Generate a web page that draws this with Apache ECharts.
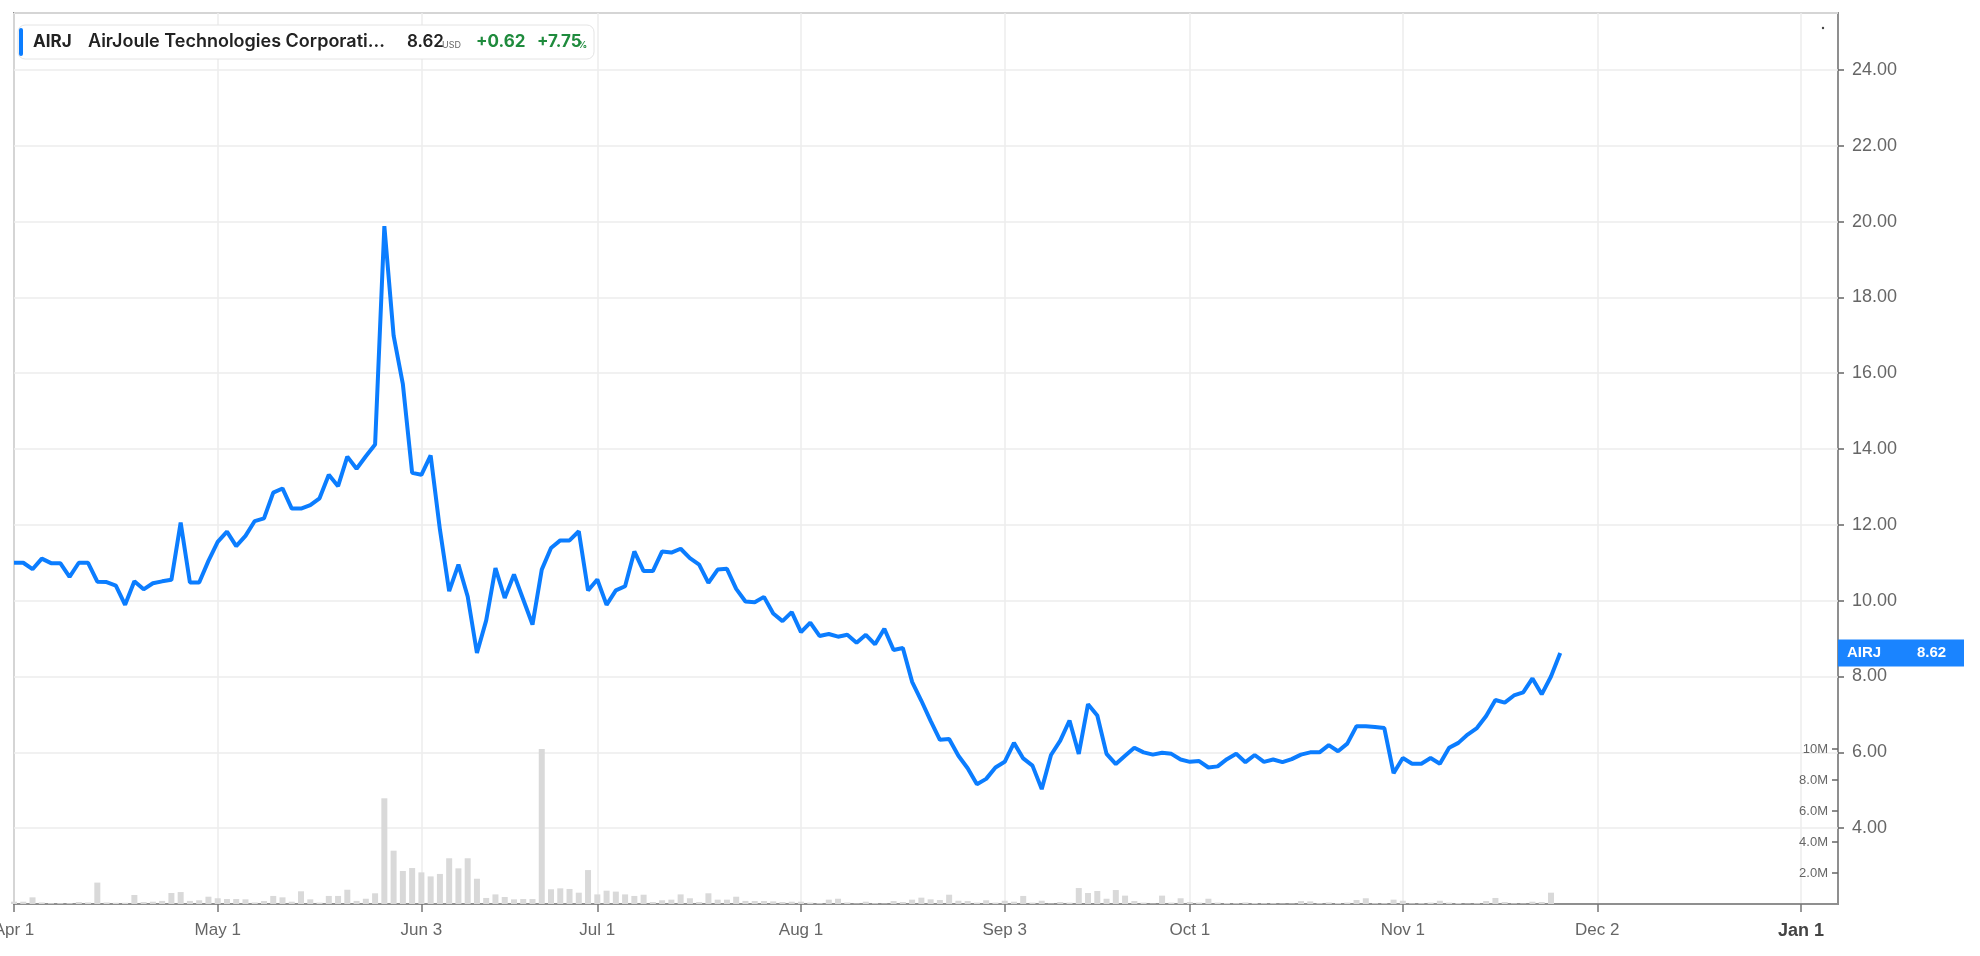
<!DOCTYPE html>
<html>
<head>
<meta charset="utf-8">
<script src="https://cdn.jsdelivr.net/npm/echarts@6.0.0/dist/echarts.min.js"></script>
<style>
html,body{margin:0;padding:0;background:#fff;}
#chart{width:1980px;height:956px;}
</style>
</head>
<body>
<div id="chart"></div>
<script>
// Trading-day categories (after the last quote the axis continues on weekdays)
const monthDays = [
  ['Apr', [1,2,3,4,5,8,9,10,11,12,15,16,17,18,19,22,23,24,25,26,29,30]],
  ['May', [1,2,3,6,7,8,9,10,13,14,15,16,17,20,21,22,23,24,28,29,30,31]],
  ['Jun', [3,4,5,6,7,10,11,12,13,14,17,18,20,21,24,25,26,27,28]],
  ['Jul', [1,2,3,5,8,9,10,11,12,15,16,17,18,19,22,23,24,25,26,29,30,31]],
  ['Aug', [1,2,5,6,7,8,9,12,13,14,15,16,19,20,21,22,23,26,27,28,29,30]],
  ['Sep', [3,4,5,6,9,10,11,12,13,16,17,18,19,20,23,24,25,26,27,30]],
  ['Oct', [1,2,3,4,7,8,9,10,11,14,15,16,17,18,21,22,23,24,25,28,29,30,31]],
  ['Nov', [1,4,5,6,7,8,11,12,13,14,15,18,19,20,21,22,25,26,27,28,29]],
  ['Dec', [2,3,4,5,6,9,10,11,12,13,16,17,18,19,20,23,24,25,26,27,30,31]],
  ['Jan', [1,2,3,6,7]]
];
const categories = [];
monthDays.forEach(([m, days]) => days.forEach(d => categories.push(m + ' ' + d)));

const tickDates = ['Apr 1','May 1','Jun 3','Jul 1','Aug 1','Sep 3','Oct 1','Nov 1','Dec 2','Jan 1'];

// Closing prices (USD), Apr 1 .. Nov 26
const prices = [
  11.00,11.00,10.83,11.11,10.99,10.99,10.63,11.00,11.00,10.50,
  10.49,10.40,9.89,10.51,10.30,10.46,10.51,10.55,12.06,10.48,
  10.48,11.05,11.55,11.82,11.44,11.71,12.10,12.17,12.85,12.96,
  12.43,12.43,12.52,12.70,13.32,13.02,13.80,13.48,13.81,14.12,
  19.88,16.99,15.71,13.37,13.32,13.83,11.88,10.25,10.95,10.11,
  8.62,9.48,10.86,10.07,10.69,10.03,9.37,10.82,11.39,11.59,
  11.59,11.83,10.27,10.56,9.89,10.27,10.38,11.30,10.78,10.78,
  11.30,11.27,11.37,11.12,10.95,10.47,10.82,10.84,10.31,9.98,
  9.96,10.10,9.66,9.46,9.70,9.17,9.42,9.07,9.12,9.05,
  9.10,8.89,9.10,8.85,9.26,8.70,8.75,7.86,7.36,6.83,
  6.33,6.35,5.91,5.58,5.16,5.30,5.60,5.75,6.25,5.84,
  5.65,5.03,5.93,6.31,6.84,5.96,7.27,6.97,5.96,5.69,
  5.91,6.12,6.00,5.94,5.99,5.96,5.81,5.75,5.77,5.60,
  5.63,5.82,5.96,5.74,5.93,5.75,5.81,5.74,5.82,5.94,
  6.00,6.00,6.19,6.03,6.23,6.69,6.69,6.67,6.64,5.45,
  5.85,5.70,5.70,5.85,5.70,6.12,6.25,6.47,6.64,6.96,
  7.38,7.31,7.50,7.58,7.95,7.53,8.00,8.62
];

// Volume (millions of shares)
const volumes = [
  0.15,0.15,0.43,0.10,0.05,0.05,0.05,0.13,0.10,1.38,
  0.10,0.08,0.08,0.58,0.13,0.15,0.20,0.71,0.77,0.20,
  0.24,0.47,0.37,0.32,0.32,0.30,0.10,0.19,0.52,0.43,
  0.15,0.82,0.30,0.09,0.52,0.52,0.92,0.20,0.34,0.69,
  6.82,3.44,2.13,2.32,2.04,1.78,1.94,2.95,2.30,2.95,
  1.63,0.39,0.62,0.45,0.30,0.32,0.32,10.00,0.95,1.01,
  0.97,0.73,2.19,0.62,0.86,0.80,0.62,0.52,0.60,0.13,
  0.24,0.28,0.62,0.37,0.13,0.69,0.28,0.28,0.47,0.20,
  0.19,0.19,0.17,0.13,0.15,0.15,0.09,0.05,0.28,0.34,
  0.10,0.03,0.15,0.05,0.03,0.19,0.13,0.28,0.41,0.30,
  0.26,0.60,0.21,0.19,0.09,0.24,0.09,0.21,0.15,0.52,
  0.09,0.21,0.03,0.13,0.09,1.03,0.71,0.84,0.34,0.90,
  0.54,0.19,0.09,0.03,0.54,0.09,0.37,0.13,0.09,0.34,
  0.09,0.06,0.05,0.10,0.06,0.05,0.05,0.03,0.03,0.19,
  0.17,0.05,0.10,0.06,0.09,0.26,0.37,0.05,0.05,0.28,
  0.21,0.04,0.05,0.09,0.21,0.09,0.06,0.03,0.05,0.19,
  0.39,0.13,0.04,0.03,0.15,0.13,0.73,null
];

const priceTicks = [4,6,8,10,12,14,16,18,20,22,24];
const volumeTicks = [2,4,6,8,10];

const ticker = 'AIRJ';
const companyName = 'AirJoule Technologies Corporati\u2026';
const lastPrice = '8.62';
const change = '+0.62';
const changePct = '+7.75';

const BLUE = '#0b7dff';
const GREEN = '#1f8b3d';
const FONT = '"Liberation Sans", Arial, sans-serif';

const isTick = (idx, val) => tickDates.indexOf(val) >= 0;

const chart = echarts.init(document.getElementById('chart'));
chart.setOption({
  animation: false,
  backgroundColor: '#fff',
  textStyle: { fontFamily: FONT },
  grid: [
    { left: 14, right: 142, top: 13, bottom: 52, show: true, borderColor: '#8f8f8f', borderWidth: 2, backgroundColor: 'transparent', containLabel: false, outerBoundsMode: 'none' },
    { left: 14, right: 142, top: 749, bottom: 52, show: false, containLabel: false, outerBoundsMode: 'none' }
  ],
  xAxis: [
    {
      type: 'category', gridIndex: 0, data: categories, boundaryGap: false,
      axisLine: { show: true, lineStyle: { color: '#8f8f8f', width: 2 } },
      axisTick: { show: true, interval: isTick, length: 8, lineStyle: { color: '#777', width: 1.5 } },
      axisLabel: {
        interval: isTick, color: '#666', fontSize: 17, margin: 18, hideOverlap: false,
        formatter: v => v === 'Jan 1' ? '{b|Jan 1}' : v,
        rich: { b: { fontWeight: 'bold', fontSize: 18, color: '#444', fontFamily: FONT } }
      },
      splitLine: { show: true, interval: isTick, lineStyle: { color: '#ededed', width: 1.5 } }
    },
    { type: 'category', gridIndex: 1, data: categories, boundaryGap: false, show: false }
  ],
  yAxis: [
    {
      type: 'value', gridIndex: 0, position: 'right', min: 2, max: 25.5, interval: 2,
      axisLine: { show: false },
      axisTick: { show: true, length: 6, lineStyle: { color: '#666', width: 1.5 } },
      axisLabel: {
        color: '#666', fontSize: 18, margin: 14, showMinLabel: false, showMaxLabel: false,
        formatter: v => priceTicks.indexOf(v) >= 0 ? v.toFixed(2) : ''
      },
      splitLine: { show: true, lineStyle: { color: '#ededed', width: 1.5 } }
    },
    {
      type: 'value', gridIndex: 1, position: 'right', min: 0, max: 10, interval: 2,
      axisLine: { show: false },
      axisTick: { show: true, inside: true, length: 6, lineStyle: { color: '#666', width: 1.5 } },
      axisLabel: {
        inside: true, color: '#666', fontSize: 13, margin: 10, showMinLabel: false,
        formatter: v => volumeTicks.indexOf(v) >= 0 ? (v >= 10 ? v + 'M' : v.toFixed(1) + 'M') : ''
      },
      splitLine: { show: false }
    }
  ],
  series: [
    {
      type: 'bar', xAxisIndex: 1, yAxisIndex: 1, data: volumes, barWidth: 6,
      itemStyle: { color: '#d9d9d9' }, z: 1, silent: true
    },
    {
      type: 'line', xAxisIndex: 0, yAxisIndex: 0, data: prices, symbol: 'none',
      lineStyle: { color: BLUE, width: 4 }, z: 5, silent: true
    }
  ]
});

// Header card and price tag on the axis
const py = chart.convertToPixel({ yAxisIndex: 0 }, prices[prices.length - 1]);
const HF = 'Inter, "Liberation Sans", Arial, sans-serif';
chart.setOption({
  graphic: [
    { type: 'rect', shape: { x: 18, y: 25, width: 576, height: 34, r: 7 }, style: { fill: '#fff', stroke: '#e4e4e4', lineWidth: 1 }, z: 100 },
    { type: 'rect', shape: { x: 19, y: 28, width: 4, height: 28, r: 2 }, style: { fill: BLUE }, z: 101 },
    { type: 'text', x: 33, y: 42, style: { text: ticker, font: 'bold 17px ' + HF, fill: '#222', verticalAlign: 'middle' }, z: 101 },
    { type: 'text', x: 88, y: 42, style: { text: companyName, font: '600 18px ' + HF, fill: '#222', verticalAlign: 'middle' }, z: 101 },
    { type: 'text', x: 407, y: 42, style: { text: lastPrice, font: '600 17px ' + HF, fill: '#222', verticalAlign: 'middle' }, z: 101 },
    { type: 'text', x: 442, y: 45, style: { text: 'USD', font: '9px ' + HF, fill: '#666', verticalAlign: 'middle' }, z: 101 },
    { type: 'text', x: 476, y: 42, style: { text: change, font: 'bold 17px ' + HF, fill: GREEN, verticalAlign: 'middle' }, z: 101 },
    { type: 'text', x: 537, y: 42, style: { text: changePct, font: 'bold 17px ' + HF, fill: GREEN, verticalAlign: 'middle' }, z: 101 },
    { type: 'text', x: 578, y: 45, style: { text: '%', font: 'bold 9px ' + HF, fill: GREEN, verticalAlign: 'middle' }, z: 101 },
    { type: 'circle', shape: { cx: 1823, cy: 28, r: 1.2 }, style: { fill: '#444' }, z: 101 },
    { type: 'rect', shape: { x: 1838, y: py - 13.5, width: 126, height: 27 }, style: { fill: '#1a84ff' }, z: 101 },
    { type: 'text', x: 1847, y: py, style: { text: ticker, font: 'bold 15px ' + FONT, fill: '#fff', verticalAlign: 'middle' }, z: 102 },
    { type: 'text', x: 1917, y: py, style: { text: lastPrice, font: 'bold 15px ' + FONT, fill: '#fff', verticalAlign: 'middle' }, z: 102 }
  ]
});
</script>
</body>
</html>
